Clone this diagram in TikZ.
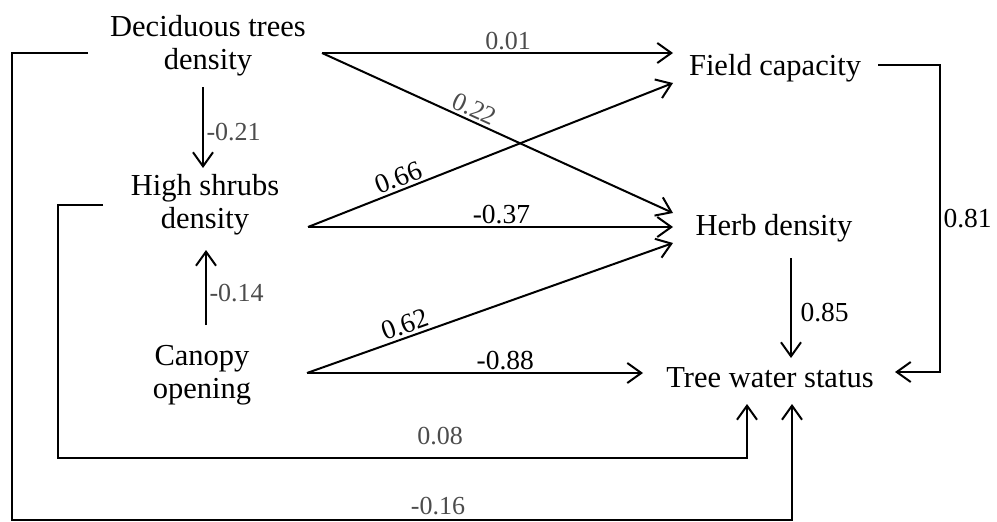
\documentclass[tikz,border=0pt]{standalone}
\usepackage{fontspec}
\setmainfont{Liberation Serif}
\usetikzlibrary{arrows.meta}
\begin{document}
\begin{tikzpicture}[x=1pt,y=-1pt,
  var/.style={font=\fontsize{30.5}{33}\selectfont, align=center, inner sep=0pt},
  lab/.style={font=\fontsize{27.5}{30}\selectfont, inner sep=2.5pt},
  thinlab/.style={font=\fontsize{26}{30}\selectfont, inner sep=2.5pt, text=black!70},
  conn/.style={line width=2pt, -{Straight Barb[length=14pt,width=20pt,line width=2pt]}}]
\useasboundingbox (0,0) rectangle (997,522);
% variables
\node[var] (dtd) at (208,46) {Deciduous trees\\density};
\node[var] (hsd) at (205,205) {High shrubs\\density};
\node[var] (co)  at (202,375) {Canopy\\opening};
\node[var] (fc)  at (775,68) {Field capacity};
\node[var] (hd)  at (774,228) {Herb density};
\node[var] (tws) at (770,378) {Tree water status};
% ports
\coordinate (dtdR) at (322,53);
\coordinate (dtdB) at (203,87);
\coordinate (dtdL) at (88,53);
\coordinate (hsdR) at (308,227);
\coordinate (hsdT) at (203,168);
\coordinate (hsdB) at (206,250);
\coordinate (hsdL) at (103,205);
\coordinate (coR) at (307,373);
\coordinate (coT) at (206,325);
\coordinate (fcL1) at (673,53);
\coordinate (fcL2) at (673,83);
\coordinate (fcR) at (878,65);
\coordinate (hdL1) at (673,213);
\coordinate (hdL2) at (673,227);
\coordinate (hdL3) at (673,243);
\coordinate (hdB) at (791,258);
\coordinate (twsL) at (643,373);
\coordinate (twsT) at (791,358);
\coordinate (twsR) at (895,372);
\coordinate (twsB1) at (747,404);
\coordinate (twsB2) at (792,404);
% connectors
\draw[conn] (dtdR) -- node[thinlab, above, pos=0.53] {0.01} (fcL1);
\draw[conn] (dtdR) -- node[thinlab, above, sloped, pos=0.42] {0.22} (hdL1);
\draw[conn] (hsdR) -- node[lab, above, sloped, pos=0.26] {0.66} (fcL2);
\draw[conn] (hsdR) -- node[lab, above, pos=0.53] {-0.37} (hdL2);
\draw[conn] (coR) -- node[lab, above, sloped, pos=0.28] {0.62} (hdL3);
\draw[conn] (coR) -- node[lab, above, pos=0.59] {-0.88} (twsL);
\draw[conn] (dtdB) -- node[thinlab, right, pos=0.55] {-0.21} (hsdT);
\draw[conn] (coT) -- node[thinlab, right, pos=0.42] {-0.14} (hsdB);
\draw[conn] (hdB) -- node[lab, right, pos=0.55, xshift=6pt] {0.85} (twsT);
\draw[conn] (fcR) -- ++(62,0) |- node[lab, right, pos=0.25] {0.81} (twsR);
\draw[conn] (hsdL) -| (58,458) -| (twsB1);
\draw[conn] (dtdL) -| (12,520) -| (twsB2);
\node[thinlab] (l008) at (440,436) {0.08};
\node[thinlab] (l016) at (438,506) {-0.16};
\end{tikzpicture}
\end{document}
